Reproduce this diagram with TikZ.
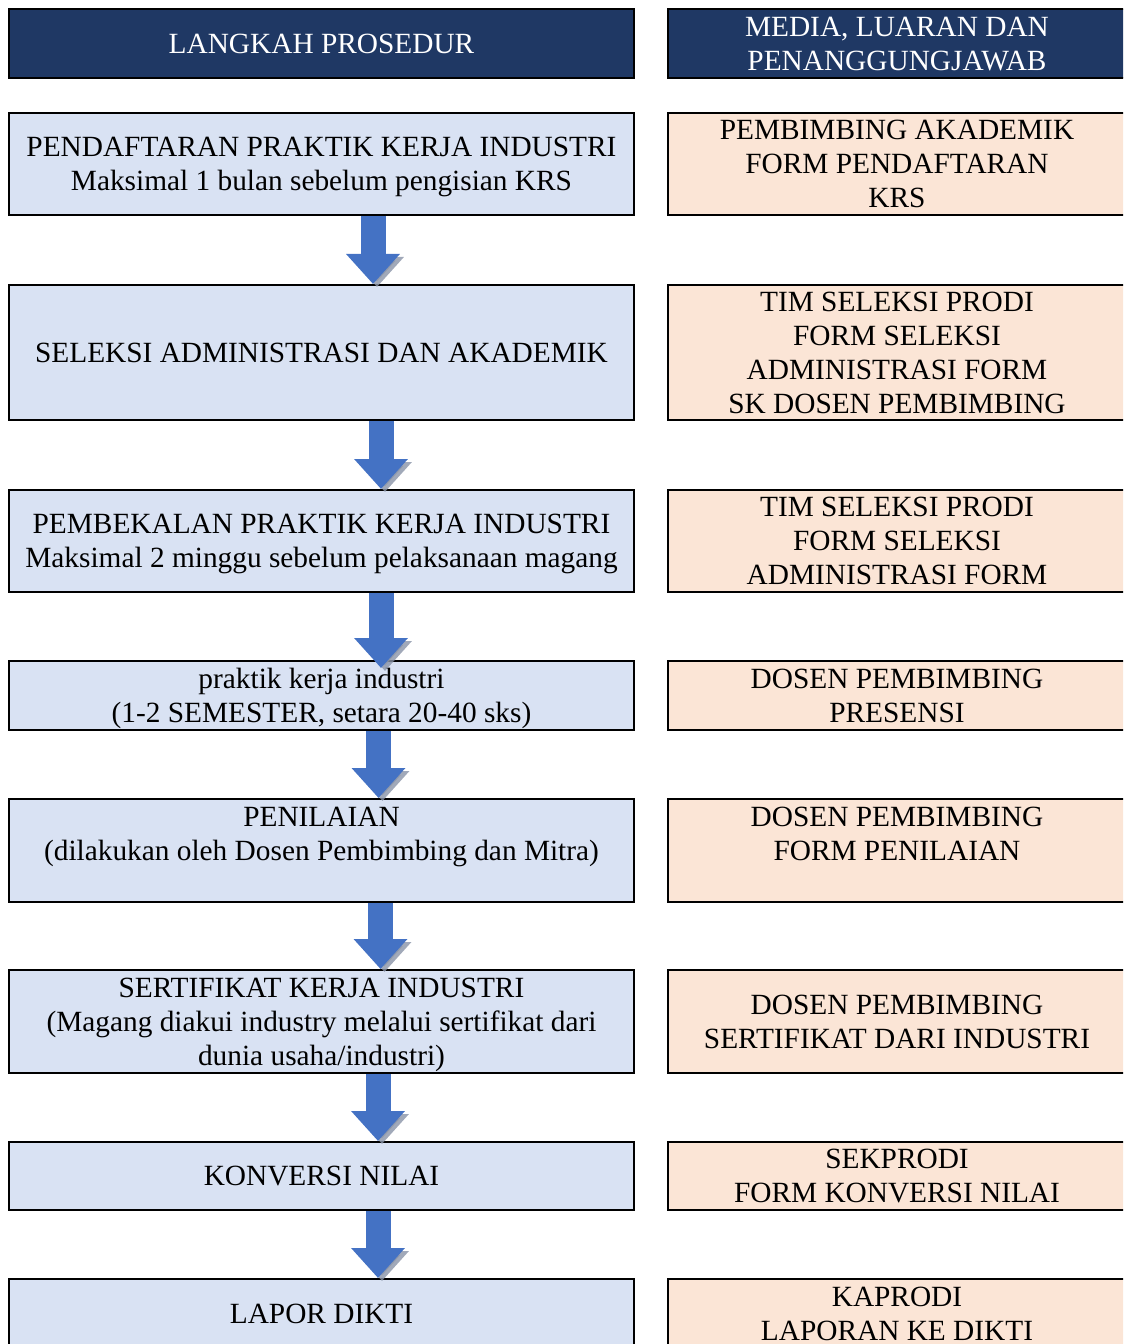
\documentclass[tikz,border=0pt]{standalone}
\usepackage{fontspec}
\setmainfont{Liberation Serif}
\usetikzlibrary{arrows.meta}

\definecolor{headnavy}{HTML}{1F3864}
\definecolor{stepblue}{HTML}{D9E2F3}
\definecolor{mediapeach}{HTML}{FBE5D6}
\definecolor{arrowblue}{HTML}{4472C4}
\definecolor{arrowshade}{HTML}{8A94A8}

\tikzset{
  box/.style={draw=black, line width=1.5pt, inner sep=0pt, align=center,
    text depth=0pt, font=\fontsize{22pt}{25.5pt}\selectfont},
  headbox/.style={box, fill=headnavy, text=white, minimum height=51.75pt},
  stepbox/.style={box, fill=stepblue, minimum width=468.75pt},
  mediabox/.style={box, fill=mediapeach, minimum width=343.5pt},
  blockarrow/.style={line width=18.75pt, draw=arrowblue,
    -{Triangle[length=22.5pt,width=39pt]},
    preaction={draw=arrowshade, opacity=0.8,
      transform canvas={shift={(3pt,-2.25pt)}}}}
}

\begin{document}
\begin{tikzpicture}[x=0.75pt,y=-0.75pt]
  \clip (0,0) rectangle (1123,1344);

  % column headers
  \node[headbox, minimum width=468.75pt] (hl) at (321.5,43.5) {LANGKAH PROSEDUR};
  \node[headbox, minimum width=343.5pt] (hr) at (897,43.5) {MEDIA, LUARAN DAN\\PENANGGUNGJAWAB};

  % procedure steps
  \node[stepbox, minimum height=76.5pt] (s1) at (321.5,164)
    {PENDAFTARAN PRAKTIK KERJA INDUSTRI\\Maksimal 1 bulan sebelum pengisian KRS};
  \node[stepbox, minimum height=101.25pt] (s2) at (321.5,352.5)
    {SELEKSI ADMINISTRASI DAN AKADEMIK};
  \node[stepbox, minimum height=76.5pt] (s3) at (321.5,541)
    {PEMBEKALAN PRAKTIK KERJA INDUSTRI\\Maksimal 2 minggu sebelum pelaksanaan magang};
  \node[stepbox, minimum height=51.75pt] (s4) at (321.5,695.5)
    {praktik kerja industri\\(1-2 SEMESTER, setara 20-40 sks)};
  \node[stepbox, minimum height=77.25pt] (s5) at (321.5,850.5)
    {PENILAIAN\\(dilakukan oleh Dosen Pembimbing dan Mitra)\\\mbox{}};
  \node[stepbox, minimum height=77.25pt] (s6) at (321.5,1021.5)
    {SERTIFIKAT KERJA INDUSTRI\\(Magang diakui industry melalui sertifikat dari\\dunia usaha/industri)};
  \node[stepbox, minimum height=51pt] (s7) at (321.5,1176)
    {KONVERSI NILAI};
  \node[stepbox, minimum height=52.5pt] (s8) at (321.5,1314)
    {LAPOR DIKTI};

  % media, outputs and persons in charge
  \node[mediabox, minimum height=76.5pt] (m1) at (897,164)
    {PEMBIMBING AKADEMIK\\FORM PENDAFTARAN\\KRS};
  \node[mediabox, minimum height=101.25pt] (m2) at (897,352.5)
    {TIM SELEKSI PRODI\\FORM SELEKSI\\ADMINISTRASI FORM\\SK DOSEN PEMBIMBING};
  \node[mediabox, minimum height=76.5pt] (m3) at (897,541)
    {TIM SELEKSI PRODI\\FORM SELEKSI\\ADMINISTRASI FORM};
  \node[mediabox, minimum height=51.75pt] (m4) at (897,695.5)
    {DOSEN PEMBIMBING\\PRESENSI};
  \node[mediabox, minimum height=77.25pt] (m5) at (897,850.5)
    {DOSEN PEMBIMBING\\FORM PENILAIAN\\\mbox{}};
  \node[mediabox, minimum height=77.25pt] (m6) at (897,1021.5)
    {DOSEN PEMBIMBING\\SERTIFIKAT DARI INDUSTRI};
  \node[mediabox, minimum height=51pt] (m7) at (897,1176)
    {SEKPRODI\\FORM KONVERSI NILAI};
  \node[mediabox, minimum height=52.5pt] (m8) at (897,1314)
    {KAPRODI\\LAPORAN KE DIKTI};

  % arrow columns
  \coordinate (a1) at (373,0);
  \coordinate (a2) at (381,0);
  \coordinate (a3) at (381,0);
  \coordinate (a4) at (378.5,0);
  \coordinate (a5) at (380.5,0);
  \coordinate (a6) at (378,0);
  \coordinate (a7) at (378,0);

  % flow arrows
  \draw[blockarrow] (s1.south -| a1) -- (s2.north -| a1);
  \draw[blockarrow] (s2.south -| a2) -- (s3.north -| a2);
  \draw[blockarrow] (s3.south -| a3) -- ([yshift=-6pt]s4.north -| a3);
  \draw[blockarrow] (s4.south -| a4) -- (s5.north -| a4);
  \draw[blockarrow] (s5.south -| a5) -- (s6.north -| a5);
  \draw[blockarrow] (s6.south -| a6) -- (s7.north -| a6);
  \draw[blockarrow] (s7.south -| a7) -- (s8.north -| a7);
\end{tikzpicture}
\end{document}
